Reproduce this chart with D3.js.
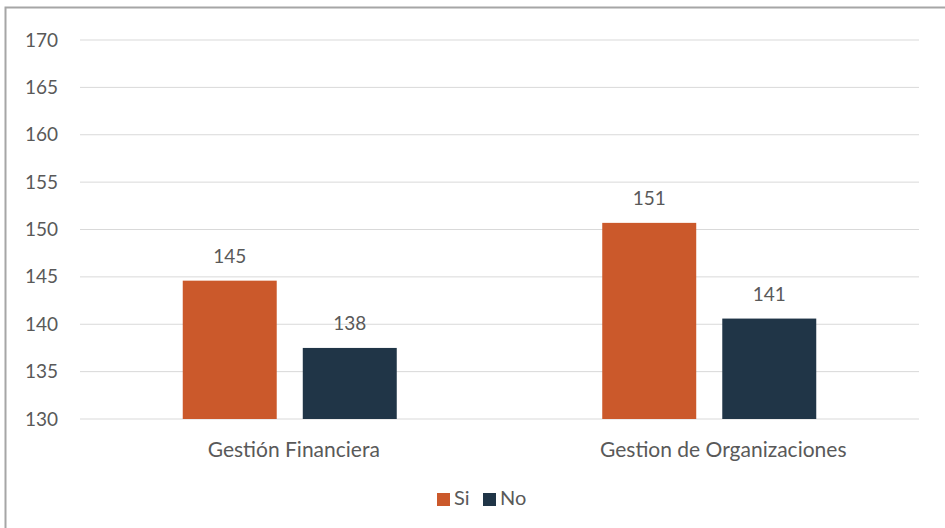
<!DOCTYPE html>
<html><head><meta charset="utf-8">
<script src="https://cdn.jsdelivr.net/npm/d3@7"></script>
<style>body{margin:0;background:#fff}svg{display:block}</style>
</head><body>
<svg id="c" width="945" height="528"></svg>
<script>
const categories = ["Gestión Financiera", "Gestion de Organizaciones"];
const seriesNames = ["Si", "No"];
const siValues = [144.6, 150.7];
const noValues = [137.5, 140.6];
const yTicks = [130, 135, 140, 145, 150, 155, 160, 165, 170];
const colors = {Si: "#CB592B", No: "#203547"};

const svg = d3.select("#c");
const font = "Lato, 'Open Sans', sans-serif";
const textColor = "#595959";

// outer border
svg.append("rect").attr("x", 5.5).attr("y", 7.5).attr("width", 960).attr("height", 540)
  .attr("fill", "#fff").attr("stroke", "#A6A6A6").attr("stroke-width", 2);

const plotLeft = 80, plotRight = 919, plotTop = 40, plotBottom = 419;
const y = d3.scaleLinear().domain([130, 170]).range([plotBottom, plotTop]);
const x0 = d3.scaleBand().domain(categories).range([plotLeft, plotRight]);
const x1 = d3.scaleBand().domain(seriesNames).range([0, x0.bandwidth()]).paddingInner(0.217).paddingOuter(0.856);

// gridlines
svg.append("g").selectAll("line").data(yTicks).join("line")
  .attr("x1", plotLeft).attr("x2", plotRight)
  .attr("y1", d => y(d)).attr("y2", d => y(d))
  .attr("stroke", "#D9D9D9").attr("stroke-width", 1);

// y axis labels
const yAxis = d3.axisLeft(y).tickValues(yTicks).tickSize(0).tickPadding(0);
const gy = svg.append("g").attr("transform", `translate(58,0)`).call(yAxis);
gy.select(".domain").remove();
gy.selectAll("text").attr("font-family", font).attr("font-size", 19).attr("fill", textColor);

const data = categories.map((c, i) => ({cat: c, vals: [{s: "Si", v: siValues[i]}, {s: "No", v: noValues[i]}]}));

const groups = svg.append("g").selectAll("g").data(data).join("g")
  .attr("transform", d => `translate(${x0(d.cat)},0)`);
groups.selectAll("rect").data(d => d.vals).join("rect")
  .attr("x", d => x1(d.s)).attr("width", x1.bandwidth())
  .attr("y", d => y(d.v)).attr("height", d => y(130) - y(d.v))
  .attr("fill", d => colors[d.s]);
groups.selectAll("text").data(d => d.vals).join("text")
  .attr("x", d => x1(d.s) + x1.bandwidth() / 2)
  .attr("y", d => y(d.v) - 18)
  .attr("text-anchor", "middle")
  .attr("font-family", font).attr("font-size", 19).attr("fill", textColor)
  .text(d => d3.format(".0f")(d.v));

// x axis labels
const xAxis = d3.axisBottom(x0).tickSize(0).tickPadding(0);
const gx = svg.append("g").attr("transform", `translate(0,442)`).call(xAxis);
gx.select(".domain").remove();
const labelShift = [4, 14];
gx.selectAll("text").attr("font-family", font).attr("font-size", 21).attr("fill", textColor)
  .attr("dx", (d, i) => labelShift[i]);

// legend
const legend = svg.append("g");
const legendItems = [{s: "Si", x: 437}, {s: "No", x: 483}];
legendItems.forEach(it => {
  legend.append("rect").attr("x", it.x).attr("y", 493).attr("width", 13).attr("height", 13).attr("fill", colors[it.s]);
  legend.append("text").attr("x", it.x + 17).attr("y", 505)
    .attr("font-family", font).attr("font-size", 20).attr("fill", textColor).text(it.s);
});
</script>
</body></html>
